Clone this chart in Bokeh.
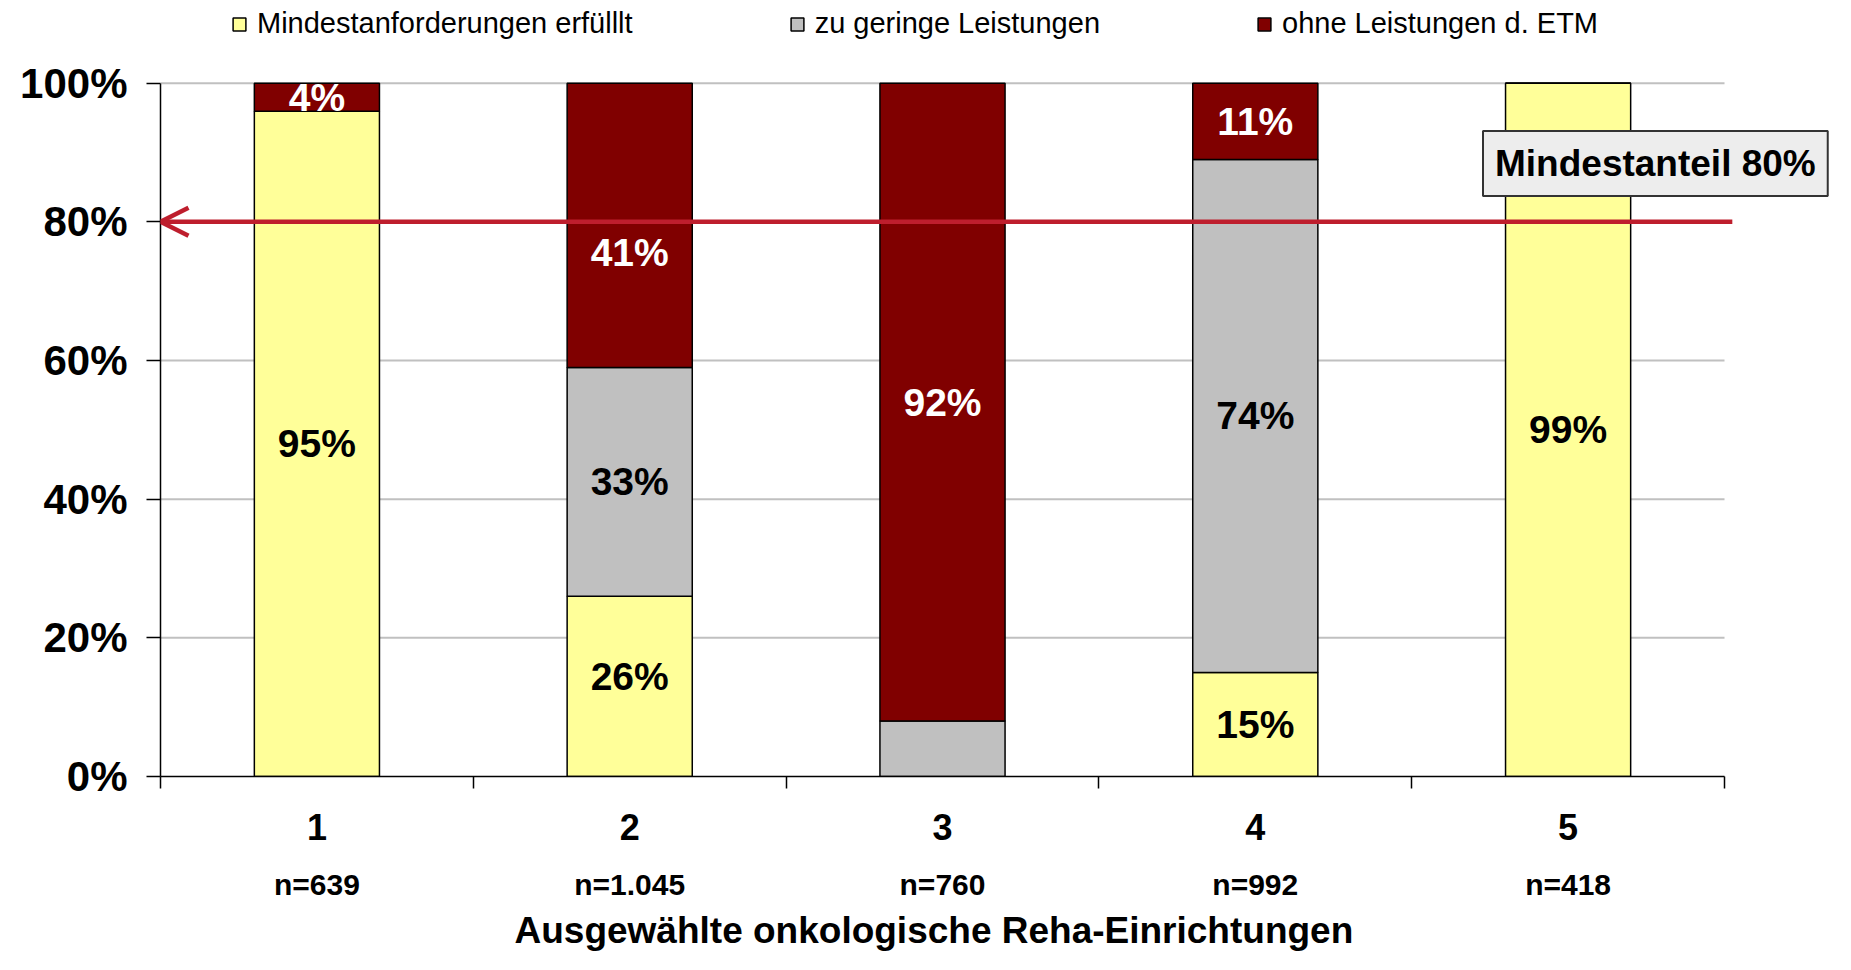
import numpy as np
import pandas as pd
from bokeh.plotting import figure
from bokeh.models import (ColumnDataSource, FixedTicker, LinearAxis, Legend, LegendItem,
                          Arrow, OpenHead, Label, Range1d, Title)
from bokeh.core.properties import value
from bokeh.embed import file_html
from bokeh.resources import INLINE

# ---------------- data ----------------
categories = ["1", "2", "3", "4", "5"]
n_labels = ["n=639", "n=1.045", "n=760", "n=992", "n=418"]
series_names = ["Mindestanforderungen erfülllt", "zu geringe Leistungen", "ohne Leistungen d. ETM"]
erfuellt = [95, 26, 0, 15, 99]
zu_gering = [0, 33, 8, 74, 0]
ohne = [4, 41, 92, 11, 0]
label_erfuellt = ["95%", "26%", "", "15%", "99%"]
label_gering = ["", "33%", "", "74%", ""]
label_ohne = ["4%", "41%", "92%", "11%", ""]
y_ticks = [0, 20, 40, 60, 80, 100]
y_tick_labels = ["0%", "20%", "40%", "60%", "80%", "100%"]
threshold = 80
threshold_text = "Mindestanteil 80%"
x_title = "Ausgewählte onkologische Reha-Einrichtungen"

# ---------------- layout / styles ----------------
W, H = 1835, 954
FRAME_L, FRAME_R_CAT, FRAME_T100, FRAME_B = 160, 1724, 83, 779   # pixel layout
BORDER_R = 5
colors = ["#FFFF99", "#C0C0C0", "#800000"]
text_colors = ["black", "black", "white"]
label_shift = [[0, -10, 0, 0, 0], [0, 0, 0, 0, 0], [0, 27, 0, 0, 0]]  # px, downward
FONT = "Liberation Sans"
RED = "#BE1E2D"

ncat = len(categories)
x_max = ncat * (W - BORDER_R - FRAME_L) / (FRAME_R_CAT - FRAME_L)
y_max = 100 * FRAME_B / (FRAME_B - FRAME_T100)

df = pd.DataFrame({"erf": erfuellt, "ger": zu_gering, "ohne": ohne}, dtype=float)
total = df.sum(axis=1)
shares = df.div(total, axis=0) * 100
xs = np.arange(ncat) + 0.5
shares["x"] = xs
src = ColumnDataSource(shares)

p = figure(width=W, height=H, output_backend="svg", toolbar_location=None,
           x_range=Range1d(0, x_max), y_range=Range1d(0, y_max),
           min_border_left=FRAME_L, min_border_right=BORDER_R, min_border_top=0,
           min_border_bottom=H - FRAME_B)
p.outline_line_color = None
p.background_fill_color = "white"
p.xgrid.grid_line_color = None
p.ygrid.grid_line_color = None

# horizontal grid lines limited to the category area
grid_y = [t for t in y_ticks if t > 0]
p.segment(x0=[0] * len(grid_y), x1=[ncat] * len(grid_y), y0=grid_y, y1=grid_y,
          line_color="#C0C0C0", line_width=2)

rs = p.vbar_stack(["erf", "ger", "ohne"], x="x", width=0.4, source=src,
                  fill_color=colors, line_color="black", line_width=1.5)

# segment labels
lx, ly, lt, lc, ldy = [], [], [], [], []
bottom = np.zeros(ncat)
for si, (col, labs) in enumerate(zip(["erf", "ger", "ohne"], [label_erfuellt, label_gering, label_ohne])):
    vals = shares[col].values
    for i in range(ncat):
        if labs[i]:
            lx.append(xs[i]); ly.append(bottom[i] + vals[i] / 2); lt.append(labs[i])
            lc.append(text_colors[si]); ldy.append(label_shift[si][i])
    bottom = bottom + vals
lsrc = ColumnDataSource(dict(x=lx, y=ly, text=lt, color=lc, dy=ldy))
p.text(x="x", y="y", text="text", source=lsrc, text_color="color", y_offset="dy",
       text_font=value(FONT), text_font_style="bold", text_font_size="39px",
       text_align="center", text_baseline="middle")

# threshold arrow
p.add_layout(Arrow(end=OpenHead(size=28, line_color=RED, line_width=4.5),
                   x_start=ncat + 0.025, y_start=threshold, x_end=0, y_end=threshold,
                   line_color=RED, line_width=4.5))
p.add_layout(Label(x=ncat - 0.221, y=threshold + 8.4, text=threshold_text,
                   text_font=FONT, text_font_style="bold", text_font_size="37px",
                   text_align="center", text_baseline="middle", text_color="black",
                   background_fill_color="#EDEDED", border_line_color="#333333",
                   border_line_width=2, padding=12))

# y axis
ya = p.yaxis[0]
ya.ticker = FixedTicker(ticks=y_ticks)
ya.bounds = (0, 100)
ya.major_label_overrides = {t: l for t, l in zip(y_ticks, y_tick_labels)}
ya.major_label_text_font = FONT
ya.major_label_text_font_style = "bold"
ya.major_label_text_font_size = "42px"
ya.major_label_text_color = "black"
ya.major_tick_out = 14
ya.major_tick_in = 0
ya.minor_tick_line_color = None
ya.axis_line_color = "black"
ya.axis_line_width = 1.5
ya.major_tick_line_width = 1.5
ya.major_label_standoff = 19

# x axis: categories
xa = p.xaxis[0]
xa.ticker = FixedTicker(ticks=list(xs), minor_ticks=list(range(ncat + 1)))
xa.bounds = (0, ncat)
xa.major_label_overrides = {float(x): c for x, c in zip(xs, categories)}
xa.major_label_text_font = FONT
xa.major_label_text_font_style = "bold"
xa.major_label_text_font_size = "36px"
xa.major_label_text_color = "black"
xa.major_tick_out = 0
xa.major_tick_in = 0
xa.minor_tick_out = 12
xa.minor_tick_in = 0
xa.minor_tick_line_color = "black"
xa.minor_tick_line_width = 1.5
xa.axis_line_color = "black"
xa.axis_line_width = 1.5
xa.major_label_standoff = 25

# x axis: n labels
xb = LinearAxis(ticker=FixedTicker(ticks=list(xs)),
                major_label_overrides={float(x): n for x, n in zip(xs, n_labels)},
                axis_line_color=None, major_tick_line_color=None, minor_tick_line_color=None,
                major_tick_out=0, major_tick_in=0,
                major_label_text_font=FONT, major_label_text_font_style="bold",
                major_label_text_font_size="30px", major_label_text_color="black",
                major_label_standoff=25)
p.add_layout(xb, "below")

# x title, centred under the category area
p.add_layout(Title(text=x_title, align="left", offset=354, standoff=8,
                   text_font=FONT, text_font_style="bold", text_font_size="37px",
                   text_color="black"), "below")

# legend
legend = Legend(items=[LegendItem(label=n, renderers=[r]) for n, r in zip(series_names, rs)],
                orientation="horizontal", location=(71, 736),
                label_text_font=FONT, label_text_font_size="29px", label_text_color="black",
                glyph_width=16, glyph_height=16, label_standoff=10, spacing=156,
                padding=0, margin=0, border_line_color=None, background_fill_alpha=0)
p.add_layout(legend, "center")

open("out.html", "w").write(file_html(p, INLINE))
